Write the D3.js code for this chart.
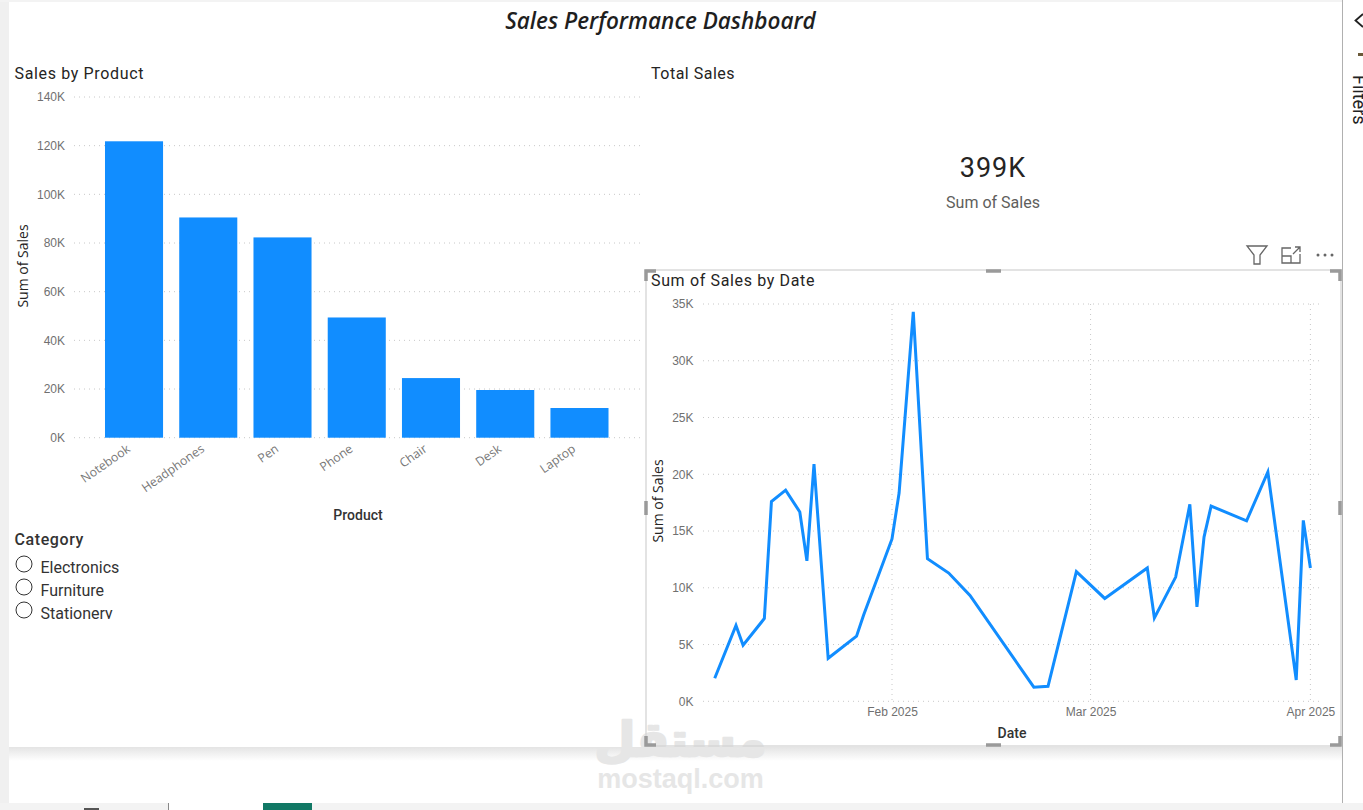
<!DOCTYPE html>
<html>
<head>
<meta charset="utf-8">
<script src="https://cdn.jsdelivr.net/npm/d3@7"></script>
<style>
  html, body { margin: 0; padding: 0; background: #fff; overflow: hidden; }
  svg { display: block; font-family: Roboto, sans-serif; }
  .domain { display: none; }
  .tick line { display: none; }
  .tick text { fill: #707070; font-size: 12px; }
  .x-products text { font-family: "Open Sans", sans-serif; font-size: 12.3px; fill: #777; }
</style>
</head>
<body>
<svg id="dashboard"></svg>
<script>
const products = ["Notebook", "Headphones", "Pen", "Phone", "Chair", "Desk", "Laptop"];
const productSales = [121800, 90500, 82300, 49400, 24500, 19600, 12200];
const barTicks = [0, 20000, 40000, 60000, 80000, 100000, 120000, 140000];

const lineDates = [
  "2025-01-07", "2025-01-10", "2025-01-11", "2025-01-14", "2025-01-15", "2025-01-17",
  "2025-01-19", "2025-01-20", "2025-01-21", "2025-01-23", "2025-01-27", "2025-01-28",
  "2025-02-01", "2025-02-02", "2025-02-04", "2025-02-06", "2025-02-09", "2025-02-12",
  "2025-02-21", "2025-02-23", "2025-02-27", "2025-03-03", "2025-03-09", "2025-03-10",
  "2025-03-13", "2025-03-15", "2025-03-16", "2025-03-17", "2025-03-18", "2025-03-23",
  "2025-03-26", "2025-03-30", "2025-03-31", "2025-04-01",
];
const lineSales = [
  2030, 6680, 4940, 7290, 17600, 18600,
  16680, 12380, 20900, 3790, 5740, 7600,
  14300, 18350, 34300, 12560, 11300, 9320,
  1240, 1320, 11430, 9060, 11750, 7350,
  10940, 17350, 8320, 14470, 17200, 15900,
  20200, 1880, 15940, 11740,
];
const lineTicks = [0, 5000, 10000, 15000, 20000, 25000, 30000, 35000];
const dateTicks = ["2025-02-01", "2025-03-01", "2025-04-01"];
const categories = ["Electronics", "Furniture", "Stationery"];

const width = 1363;
const height = 810;
const parseDate = d3.utcParse("%Y-%m-%d");
const kFormat = (d) => `${d / 1000}K`;

const svg = d3.select("#dashboard").attr("width", width).attr("height", height);
const defs = svg.append("defs");

const addText = (x, y, str, size, fill, weight, anchor) =>
  svg.append("text")
    .attr("x", x)
    .attr("y", y)
    .attr("font-size", size)
    .attr("fill", fill || "#252423")
    .attr("font-weight", weight || 400)
    .attr("text-anchor", anchor || "start")
    .text(str);

// page chrome
const shadow = defs.append("linearGradient")
  .attr("id", "pageShadow").attr("x1", 0).attr("x2", 0).attr("y1", 0).attr("y2", 1);
shadow.append("stop").attr("offset", 0).attr("stop-color", "#e4e4e4");
shadow.append("stop").attr("offset", 1).attr("stop-color", "#ffffff");

svg.append("rect").attr("width", width).attr("height", height).attr("fill", "#fff");
svg.append("rect").attr("width", 9).attr("height", height).attr("fill", "#f0f0f0");
svg.append("rect").attr("width", 1342).attr("height", 2).attr("fill", "#f3f3f3");
svg.append("rect").attr("x", 9).attr("y", 747).attr("width", 1333).attr("height", 14).attr("fill", "url(#pageShadow)");
svg.append("rect").attr("y", 803).attr("width", width).attr("height", 7).attr("fill", "#f3f3f3");
svg.append("rect").attr("x", 169).attr("y", 803).attr("width", 94).attr("height", 7).attr("fill", "#fff");
svg.append("rect").attr("x", 168).attr("y", 803).attr("width", 1).attr("height", 7).attr("fill", "#888");
svg.append("rect").attr("x", 263).attr("y", 803).attr("width", 49).attr("height", 7).attr("fill", "#117865");
svg.append("rect").attr("x", 84).attr("y", 808).attr("width", 15).attr("height", 2).attr("fill", "#555");
svg.append("line").attr("x1", 1342.5).attr("x2", 1342.5).attr("y1", 0).attr("y2", 803)
  .attr("stroke", "#b0b0b0").attr("stroke-width", 1);

// watermark
addText(680.5, 756, "مستقل", 47, "#e6e6e6", 700, "middle")
  .attr("font-family", "'DejaVu Sans', sans-serif")
  .attr("stroke", "#e6e6e6")
  .attr("stroke-width", 2.5)
  .attr("stroke-linejoin", "round");
addText(680.5, 788, "mostaql.com", 27, "#e6e6e6", 700, "middle")
  .attr("font-family", "'Liberation Sans', sans-serif");

// title
addText(660.5, 29, "Sales Performance Dashboard", 22.5, "#1f1f1f", 600, "middle")
  .attr("font-style", "italic")
  .attr("font-family", "'Open Sans', sans-serif");

// bar chart
addText(14.5, 79, "Sales by Product", 16, "#252423").attr("letter-spacing", 0.65);

const barX = d3.scaleBand()
  .domain(products)
  .range([96.9, 616.6])
  .paddingInner(0.218)
  .paddingOuter(0.109);
const barY = d3.scaleLinear().domain([0, 140000]).range([437.7, 97]);

svg.append("g")
  .selectAll("line")
  .data(barTicks)
  .join("line")
  .attr("x1", 74)
  .attr("x2", 640)
  .attr("y1", (d) => barY(d))
  .attr("y2", (d) => barY(d))
  .attr("stroke", "#c8c8c8")
  .attr("stroke-dasharray", "1 4");

svg.append("g")
  .attr("transform", "translate(65,0)")
  .call(d3.axisLeft(barY).tickValues(barTicks).tickFormat(kFormat).tickSize(0).tickPadding(0));

svg.append("g")
  .selectAll("rect")
  .data(products)
  .join("rect")
  .attr("x", (d) => barX(d))
  .attr("width", barX.bandwidth())
  .attr("y", (d, i) => barY(productSales[i]))
  .attr("height", (d, i) => barY(0) - barY(productSales[i]))
  .attr("fill", "#118dff");

svg.append("g")
  .attr("class", "x-products")
  .attr("transform", `translate(0,${barY(0)})`)
  .call(d3.axisBottom(barX).tickSize(0).tickPadding(0))
  .selectAll("text")
  .attr("text-anchor", "end")
  .attr("dy", 0)
  .attr("transform", "translate(-3,13) rotate(-35)");

addText(358, 520, "Product", 14, "#333", 500, "middle");
addText(28, 266, "Sum of Sales", 14, "#252423", 400, "middle")
  .attr("font-family", "'Open Sans', sans-serif")
  .attr("transform", "rotate(-90 28 266)");

// slicer
addText(14.5, 545, "Category", 16, "#333", 500).attr("letter-spacing", 0.6);

defs.append("clipPath").attr("id", "slicerClip")
  .append("rect").attr("x", 10).attr("y", 550).attr("width", 300).attr("height", 69);

const slicerY = d3.scalePoint().domain(categories).range([564, 610]);
const slicer = svg.append("g").attr("clip-path", "url(#slicerClip)");
slicer.selectAll("circle")
  .data(categories)
  .join("circle")
  .attr("cx", 24)
  .attr("cy", (d) => slicerY(d))
  .attr("r", 8)
  .attr("fill", "#fff")
  .attr("stroke", "#333");
slicer.selectAll("text")
  .data(categories)
  .join("text")
  .attr("x", 40.5)
  .attr("y", (d) => slicerY(d) + 9)
  .attr("font-size", 16)
  .attr("fill", "#333")
  .text((d) => d);

// card
addText(651, 79, "Total Sales", 16, "#252423").attr("letter-spacing", 0.5);
addText(993, 177, "399K", 27, "#252423", 400, "middle").attr("letter-spacing", 1);
addText(993, 208, "Sum of Sales", 16, "#605e5c", 400, "middle");

// line chart
addText(651, 286, "Sum of Sales by Date", 16, "#252423").attr("letter-spacing", 0.65);

const lineX = d3.scaleUtc()
  .domain([parseDate("2025-02-01"), parseDate("2025-04-01")])
  .range([892, 1310.4]);
const lineY = d3.scaleLinear().domain([0, 35000]).range([701.3, 304]);

svg.append("g")
  .selectAll("line")
  .data(lineTicks)
  .join("line")
  .attr("x1", 703)
  .attr("x2", 1319)
  .attr("y1", (d) => lineY(d))
  .attr("y2", (d) => lineY(d))
  .attr("stroke", "#c8c8c8")
  .attr("stroke-dasharray", "1 4");

svg.append("g")
  .selectAll("line")
  .data(dateTicks)
  .join("line")
  .attr("x1", (d) => lineX(parseDate(d)))
  .attr("x2", (d) => lineX(parseDate(d)))
  .attr("y1", lineY(35000))
  .attr("y2", lineY(0))
  .attr("stroke", "#c8c8c8")
  .attr("stroke-dasharray", "1 4");

svg.append("g")
  .attr("transform", "translate(693.5,0)")
  .call(d3.axisLeft(lineY).tickValues(lineTicks).tickFormat(kFormat).tickSize(0).tickPadding(0));

svg.append("g")
  .attr("transform", `translate(0,${lineY(0)})`)
  .call(d3.axisBottom(lineX)
    .tickValues(dateTicks.map(parseDate))
    .tickFormat(d3.utcFormat("%b %Y"))
    .tickSize(0)
    .tickPadding(6));

const linePath = d3.line()
  .x((d, i) => lineX(parseDate(lineDates[i])))
  .y((d) => lineY(d));

svg.append("path")
  .datum(lineSales)
  .attr("d", linePath)
  .attr("fill", "none")
  .attr("stroke", "#118dff")
  .attr("stroke-width", 3)
  .attr("stroke-linejoin", "miter");

addText(1012, 738, "Date", 14, "#333", 500, "middle");
addText(663, 501, "Sum of Sales", 14, "#252423", 400, "middle")
  .attr("font-family", "'Open Sans', sans-serif")
  .attr("transform", "rotate(-90 663 501)");

// focus border and handles
svg.append("rect")
  .attr("x", 646).attr("y", 270).attr("width", 695).attr("height", 476)
  .attr("fill", "none").attr("stroke", "#d4d4d4").attr("stroke-width", 1.3);

const handles = svg.append("g").attr("fill", "none").attr("stroke", "#9a9a9a").attr("stroke-width", 3.5);
[
  "M646,281V271H656",
  "M1330,271H1340V281",
  "M646,736V745H656",
  "M1330,745H1340V736",
  "M986,271H1001",
  "M986,745H1001",
  "M646,501V515",
  "M1340,501V515",
].forEach((d) => handles.append("path").attr("d", d));

// visual header icons
const icons = svg.append("g").attr("fill", "none").attr("stroke", "#666").attr("stroke-width", 1.3);
icons.append("path").attr("d", "M1247,246H1267L1260,255V264H1254V255Z");
icons.append("path").attr("d", "M1291,248H1282V263H1300V254M1282,256H1291V263M1293,254L1300,247M1295,247H1300V252");
svg.append("g").attr("fill", "#666")
  .selectAll("circle")
  .data([1318, 1325, 1332])
  .join("circle")
  .attr("cx", (d) => d)
  .attr("cy", 255)
  .attr("r", 1.5);

// filter pane
svg.append("path").attr("d", "M1363,14L1355.5,20.5L1363,27").attr("fill", "none").attr("stroke", "#222").attr("stroke-width", 1.8);
svg.append("rect").attr("x", 1358).attr("y", 53).attr("width", 5).attr("height", 3).attr("fill", "#6b5a3a");
addText(1353, 75, "Filters", 18, "#222").attr("transform", "rotate(90 1353 75)");
</script>
</body>
</html>
